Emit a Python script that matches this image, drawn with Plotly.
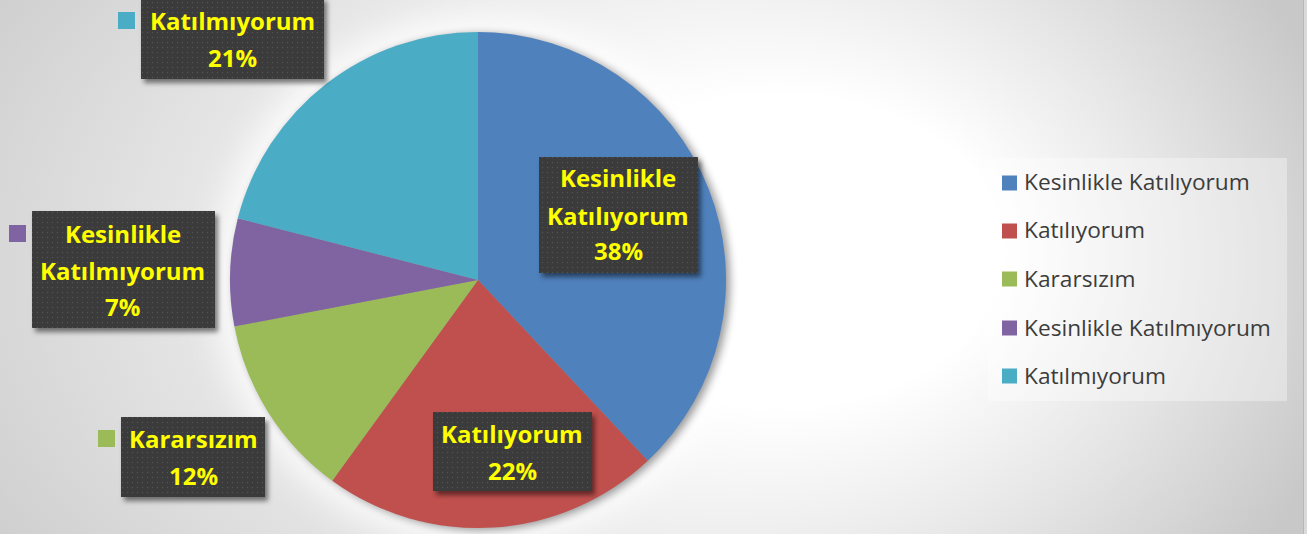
import base64
import plotly.graph_objects as go

# ---------------- data ----------------
categories = ["Kesinlikle Katılıyorum", "Katılıyorum", "Kararsızım",
              "Kesinlikle Katılmıyorum", "Katılmıyorum"]
values = [38, 22, 12, 7, 21]
colors = ["#4F81BD", "#C0504D", "#9BBB59", "#8064A2", "#4BACC6"]

W, H = 1307, 534


def px(x):
    return x / W


def py(y):
    return 1 - y / H


total = sum(values)
percents = [f"{round(v / total * 100)}%" for v in values]

# label box layout (pixel positions): x0, y0, x1, y1, centre x, line centres, key square
label_layout = [
    (539, 157, 698, 273, 618, [178, 215, 251], None),
    (433, 412, 592, 491, 512, [433, 470], None),
    (121, 417, 265, 497, 193, [438, 475], (98, 430)),
    (32, 211, 215, 328, 123, [234, 270, 306], (9, 225)),
    (141, -3, 324, 79, 232, [21, 57], (118, 12)),
]

# ---------------- background svg (gradient, glow, pie shadow) ----------------
pie_cx, pie_cy, pie_r = 478, 280, 248
bg_svg = f"""<svg xmlns='http://www.w3.org/2000/svg' width='{W}' height='{H}' viewBox='0 0 {W} {H}'>
<defs>
<radialGradient id='bg' gradientUnits='userSpaceOnUse' cx='580' cy='267' r='790' fx='860' fy='235'
 gradientTransform='translate(580 267) scale(1 0.7) translate(-580 -267)'>
<stop offset='0' stop-color='#ffffff'/>
<stop offset='0.28' stop-color='#ffffff'/>
<stop offset='0.62' stop-color='#e6e6e6'/>
<stop offset='1' stop-color='#c8c8c8'/>
</radialGradient>
<filter id='glow' x='-30%' y='-30%' width='160%' height='160%'><feGaussianBlur stdDeviation='16'/></filter>
<filter id='shd' x='-20%' y='-20%' width='140%' height='140%'><feGaussianBlur stdDeviation='4'/></filter>
</defs>
<rect x='0' y='0' width='{W}' height='{H}' fill='url(#bg)'/>
<circle cx='{pie_cx}' cy='{pie_cy}' r='{pie_r + 16}' fill='#ffffff' opacity='0.8' filter='url(#glow)'/>
<circle cx='{pie_cx + 4}' cy='{pie_cy + 2}' r='{pie_r}' fill='#000000' opacity='0.4' filter='url(#shd)'/>
<rect x='1303' y='0' width='1' height='{H}' fill='#b8b8b8'/>
<rect x='1304' y='0' width='3' height='{H}' fill='#dadada'/>
</svg>"""

# ---------------- overlay svg (label boxes with dot pattern and shadow) ----------------
rects = ""
for (x0, y0, x1, y1, cx, ys, key) in label_layout:
    rects += (f"<rect x='{x0}' y='{y0}' width='{x1 - x0}' height='{y1 - y0}' "
              f"fill='url(#dots)' filter='url(#ds)'/>")
ov_svg = f"""<svg xmlns='http://www.w3.org/2000/svg' width='{W}' height='{H}' viewBox='0 0 {W} {H}'>
<defs>
<pattern id='dots' width='5' height='5' patternUnits='userSpaceOnUse'>
<rect width='5' height='5' fill='#3a3a3a'/>
<circle cx='2.5' cy='2.5' r='0.7' fill='#545454'/>
</pattern>
<filter id='ds' x='-10%' y='-10%' width='130%' height='140%'>
<feDropShadow dx='3' dy='4' stdDeviation='2.5' flood-color='#000000' flood-opacity='0.5'/>
</filter>
</defs>
{rects}
</svg>"""


def uri(svg):
    return "data:image/svg+xml;base64," + base64.b64encode(svg.encode("utf-8")).decode()


# ---------------- figure ----------------
fig = go.Figure()
fig.add_trace(go.Pie(
    labels=categories,
    values=values,
    marker=dict(colors=colors, line=dict(width=0)),
    sort=False,
    direction="clockwise",
    rotation=0,
    textinfo="none",
    hoverinfo="label+percent",
    showlegend=False,
    domain=dict(x=[px(pie_cx - pie_r), px(pie_cx + pie_r)],
                y=[py(pie_cy + pie_r), py(pie_cy - pie_r)]),
))

images = [
    dict(source=uri(bg_svg), xref="paper", yref="paper", x=0, y=1, sizex=1, sizey=1,
         xanchor="left", yanchor="top", sizing="stretch", layer="below"),
    dict(source=uri(ov_svg), xref="paper", yref="paper", x=0, y=1, sizex=1, sizey=1,
         xanchor="left", yanchor="top", sizing="stretch", layer="above"),
]

shapes = []
annotations = []

# data labels
for i, (x0, y0, x1, y1, cx, ys, key) in enumerate(label_layout):
    lines = categories[i].split(" ") + [percents[i]]
    for txt, yy in zip(lines, ys):
        annotations.append(dict(
            text=txt, x=px(cx), y=py(yy), xref="paper", yref="paper",
            xanchor="center", yanchor="middle", showarrow=False,
            font=dict(family="Open Sans", size=24, color="#FFFF00", weight="bold"),
        ))
    if key is not None:
        kx, ky = key
        shapes.append(dict(type="rect", xref="paper", yref="paper",
                           x0=px(kx), x1=px(kx + 17), y0=py(ky + 17), y1=py(ky),
                           fillcolor=colors[i], line=dict(width=0), layer="above"))

# legend (drawn manually to match spacing)
shapes.append(dict(type="rect", xref="paper", yref="paper",
                   x0=px(988), x1=px(1287), y0=py(401), y1=py(158),
                   fillcolor="rgba(255,255,255,0.35)", line=dict(width=0), layer="below"))
legend_y = [183, 231, 279, 328, 376]
for i, name in enumerate(categories):
    yy = legend_y[i]
    shapes.append(dict(type="rect", xref="paper", yref="paper",
                       x0=px(1002), x1=px(1017), y0=py(yy + 7.5), y1=py(yy - 7.5),
                       fillcolor=colors[i], line=dict(width=0), layer="above"))
    annotations.append(dict(
        text=name, x=px(1022), y=py(yy - 1), xref="paper", yref="paper",
        xanchor="left", yanchor="middle", showarrow=False,
        font=dict(family="Open Sans", size=22.7, color="#3c3c3c"),
    ))

fig.update_layout(
    width=W, height=H,
    margin=dict(l=0, r=0, t=0, b=0),
    paper_bgcolor="#d8d8d8",
    plot_bgcolor="rgba(0,0,0,0)",
    images=images,
    shapes=shapes,
    annotations=annotations,
    showlegend=False,
)

fig.write_html("out.html", config={"displayModeBar": False},
               post_script="document.body.style.margin='0';document.body.style.overflow='hidden';")
